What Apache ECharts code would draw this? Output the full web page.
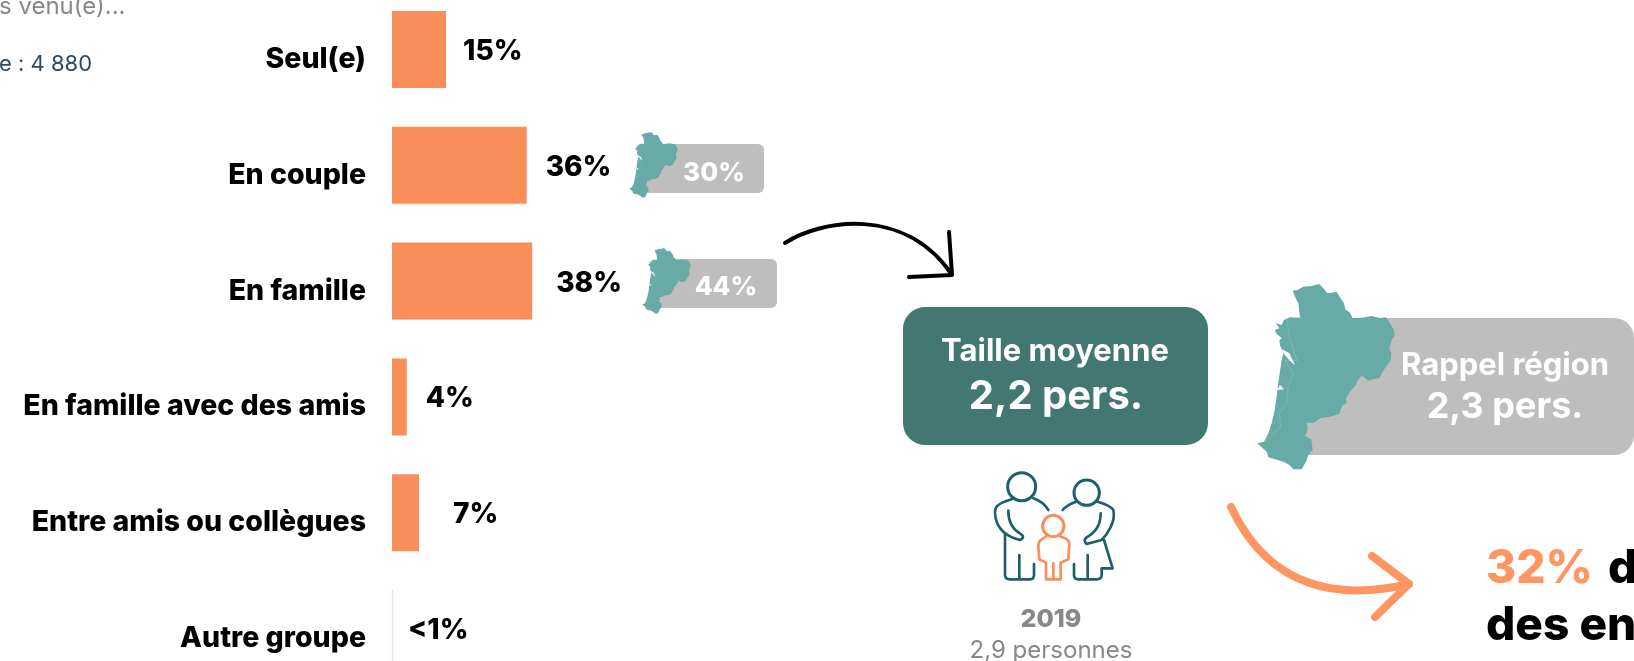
<!DOCTYPE html>
<html>
<head>
<meta charset="utf-8">
<style>
	html, body { margin: 0; padding: 0; background: #fff; }
	#main { width: 1634px; height: 661px; }
</style>
<script src="https://cdn.jsdelivr.net/npm/echarts@6/dist/echarts.min.js"></script>
</head>
<body>
<div id="main"></div>
<script>
const categories = ['Seul(e)', 'En couple', 'En famille', 'En famille avec des amis', 'Entre amis ou collègues', 'Autre groupe'];
const shares = [14.6, 36.4, 37.9, 4, 7.3, 0.3];
const shareLabels = ['15%', '36%', '38%', '4%', '7%', '<1%'];
const regionLabels = ['30%', '44%'];
const averageSize = '2,2 pers.';
const regionSize = '2,3 pers.';
const lastYear = '2019';
const lastYearSize = '2,9 personnes';

const FONT = 'Inter, "Noto Sans", sans-serif';
const ORANGE = '#f98e5b';
const TEAL = '#68aba6';
const GREY = '#bebebe';
const DARK = '#1d5f6e';

// contour de la région, repris à la main
const regionOutline = [[158,62],[172,60],[190,50],[214,48],[238,42],[250,55],[262,70],[276,68],[290,65],[300,82],[312,100],[316,118],[330,128],[338,145],[365,143],[395,138],[420,144],[438,142],[450,160],[462,180],[464,198],[456,208],[448,235],[454,250],[452,272],[438,290],[430,302],[418,324],[400,328],[385,332],[372,322],[365,318],[352,332],[348,345],[330,365],[318,385],[320,400],[306,408],[298,432],[270,440],[240,445],[222,458],[200,458],[203,480],[195,497],[214,508],[218,540],[205,555],[198,575],[185,598],[160,598],[148,585],[130,575],[105,568],[85,562],[80,545],[65,532],[52,520],[72,515],[85,490],[95,460],[104,420],[110,380],[116,330],[125,270],[130,250],[120,225],[118,210],[125,205],[108,190],[105,180],[118,175],[108,160],[95,155],[125,165],[132,150],[150,142],[180,143],[177,118],[175,100],[165,80]];
const estuary = [[126,238],[148,250],[165,285],[150,272],[130,250]];
const lagoon = [[112,360],[120,345],[132,358]];
const rivers = [[140,150],[150,210],[172,272],[135,270],[160,312],[145,345],[140,400],[118,430],[122,470],[75,515]];

function region(x, y, scale) {
	return {
		type: 'group',
		x: x,
		y: y,
		scaleX: scale,
		scaleY: scale,
		children: [
			{ type: 'polygon', shape: { points: regionOutline }, style: { fill: TEAL } },
			{ type: 'polygon', shape: { points: estuary }, style: { fill: '#fff' } },
			{ type: 'polygon', shape: { points: lagoon }, style: { fill: '#fff' } },
			{ type: 'polyline', shape: { points: rivers }, style: { fill: 'none', stroke: 'rgba(255,255,255,0.3)', lineWidth: 1.5 } }
		]
	};
}

function label(x, y, text, size, color, weight, align) {
	return {
		type: 'text',
		x: x,
		y: y,
		style: {
			text: text,
			fill: color,
			font: (weight || 700) + ' ' + size + 'px ' + FONT,
			textAlign: align || 'center',
			textVerticalAlign: 'middle'
		}
	};
}

function stroke(pathData, color, width) {
	return {
		type: 'path',
		shape: { pathData: pathData },
		style: { fill: 'none', stroke: color, lineWidth: width || 8, lineCap: 'round', lineJoin: 'round' }
	};
}

function ring(cx, cy, r, color) {
	return { type: 'circle', shape: { cx: cx, cy: cy, r: r }, style: { fill: 'none', stroke: color, lineWidth: 9 } };
}

// flèches et pictogramme : le composant graphic ne connaît pas les tracés libres
function renderDrawings() {
	return {
		type: 'group',
		children: [
			stroke('M785 243 C820 220 905 205 952 275 M949 232 L952 275 L909 277', '#000', 4),
			stroke('M1231 507 C1270 590 1340 600 1409 584 M1372 556 L1409 584 L1375 617', '#ff9662', 8),
			{
				type: 'group',
				x: 970,
				y: 460,
				scaleX: 1 / 3,
				scaleY: 1 / 3,
				children: [
					ring(155, 80, 42, DARK),
					stroke('M125 118 Q90 128 80 140 Q72 150 77 175 Q88 225 150 240 Q168 232 150 220 Q115 200 115 152', DARK),
					stroke('M105 222 L105 345 Q105 358 120 358 L180 358 Q192 358 192 345 L192 312 M148 285 L148 358', DARK),
					stroke('M190 115 Q220 125 235 150', DARK),
					ring(350, 98, 38, DARK),
					stroke('M278 150 Q290 135 318 125', DARK),
					stroke('M382 125 Q420 135 430 150 Q436 175 420 205 Q410 225 395 240 L350 252 Q338 240 350 232 Q392 210 392 160', DARK),
					stroke('M402 240 L428 325 L395 325 L395 345 Q395 358 380 358 L325 358 Q312 358 312 345 L312 312 M353 285 L353 358', DARK),
					ring(250, 198, 32, ORANGE),
					stroke('M230 228 L215 238 Q205 245 205 260 L208 298 L228 308 L228 358 L272 358 L272 308 L295 298 L298 255 Q298 240 285 235 L268 228 M250 310 L250 355', ORANGE)
				]
			}
		]
	};
}

// écart du libellé par barre
const gaps = [17, 19, 24, 19, 34, 15];

const option = {
	backgroundColor: '#fff',
	animation: false,
	grid: { left: 392, top: -8.4, width: 370, height: 694.8, outerBoundsMode: 'none' },
	xAxis: { type: 'value', min: 0, max: 100, show: false },
	yAxis: {
		type: 'category',
		inverse: true,
		data: categories,
		axisLine: { show: false },
		axisTick: { show: false },
		axisLabel: {
			margin: 26,
			color: '#000',
			fontFamily: FONT,
			fontWeight: 800,
			fontSize: 28.5,
			verticalAlign: 'top',
			lineHeight: 20
		}
	},
	series: [{
		type: 'bar',
		barWidth: 77,
		data: shares.map((v, i) => ({
			value: v,
			// la dernière barre est à peine visible
			itemStyle: { color: v < 1 ? 'rgba(249,142,91,0.3)' : ORANGE },
			label: {
				show: true,
				position: 'right',
				distance: gaps[i],
				offset: [0, 2],
				formatter: shareLabels[i],
				color: '#000',
				fontFamily: FONT,
				fontWeight: 800,
				fontSize: 28
			}
		}))
	}, {
		type: 'custom',
		coordinateSystem: 'none',
		silent: true,
		data: [[0]],
		renderItem: renderDrawings
	}],
	graphic: [
		label(-1, 7, 's venu(e)...', 24, '#888', 400, 'left'),
		label(-1, 64, 'e : 4 880', 22, '#2f4a60', 400, 'left'),

		// rappels région
		{ type: 'rect', shape: { x: 640, y: 144, width: 124, height: 49, r: 6 }, style: { fill: GREY } },
		region(623, 127, 0.118),
		label(714, 173, regionLabels[0], 26, '#fff', 800),
		{ type: 'rect', shape: { x: 653, y: 259, width: 124, height: 49, r: 6 }, style: { fill: GREY } },
		region(636, 243, 0.118),
		label(726, 287, regionLabels[1], 26, '#fff', 800),

		// taille moyenne
		{ type: 'rect', shape: { x: 903, y: 307, width: 305, height: 138, r: 22 }, style: { fill: '#437872' } },
		label(1055, 352, 'Taille moyenne', 31, '#fff'),
		label(1056, 397, averageSize, 40, '#fff'),

		{ type: 'rect', shape: { x: 1285, y: 318, width: 349, height: 137, r: 20 }, style: { fill: GREY } },
		region(1240, 270, 1 / 3),
		label(1505, 366, 'Rappel région', 31, '#fff'),
		label(1505, 407, regionSize, 36, '#fff'),

		label(1051, 619, lastYear, 25, '#888', 800),
		label(1051, 651, lastYearSize, 24, '#888', 400),

		label(1486, 569, '32%', 46, '#ff9662', 800, 'left'),
		label(1608, 569, 'd', 46, '#000', 800, 'left'),
		label(1486, 626, 'des en', 46, '#000', 800, 'left')
	]
};

let echart = echarts.init(document.getElementById('main'));
echart.setOption(option);
</script>
</body>
</html>
